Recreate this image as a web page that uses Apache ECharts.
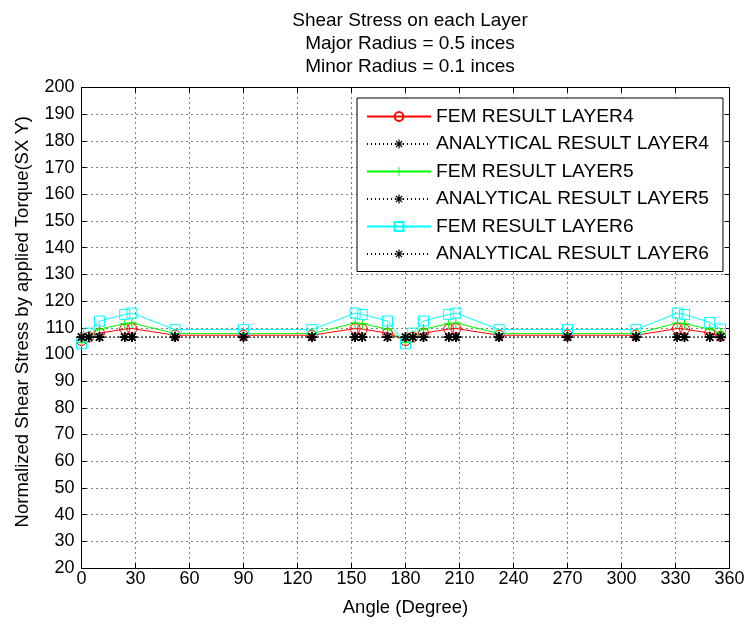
<!DOCTYPE html>
<html>
<head>
<meta charset="utf-8">
<script src="https://cdn.jsdelivr.net/npm/echarts@6/dist/echarts.min.js"></script>
<style>
  html, body { margin: 0; padding: 0; background: #fff; }
  #chart { width: 748px; height: 625px; }
</style>
</head>
<body>
<div id="chart"></div>
<script>
// Node angles around the section (degrees)
const angles = [0, 4, 10, 24, 28, 52, 90, 128, 152, 156, 170, 180, 184, 190, 204, 208, 232, 270, 308, 331, 335, 349, 355];

// FEM shear stress per layer
const fem4 = [105.2, 106.5, 108.0, 109.5, 109.7, 107.2, 107.2, 107.2, 109.7, 109.5, 108.0, 105.2, 106.5, 108.0, 109.5, 109.7, 107.2, 107.2, 107.2, 109.7, 109.5, 108.0, 106.8];
const fem5 = [104.5, 107.0, 109.5, 111.5, 111.8, 107.8, 107.8, 107.8, 111.8, 111.5, 109.5, 104.5, 107.0, 109.5, 111.5, 111.8, 107.8, 107.8, 107.8, 111.8, 111.5, 109.5, 108.0];
const fem6 = [104.0, 108.0, 112.5, 115.0, 115.5, 109.3, 109.3, 109.3, 115.5, 115.0, 112.5, 104.0, 108.0, 112.5, 115.0, 115.5, 109.3, 109.3, 109.3, 115.5, 115.0, 112.0, 109.5];

// Analytical shear stress per layer
const ana4 = [106.5, 106.5, 106.5, 106.5, 106.5, 106.5, 106.5, 106.5, 106.5, 106.5, 106.5, 106.5, 106.5, 106.5, 106.5, 106.5, 106.5, 106.5, 106.5, 106.5, 106.5, 106.5, 106.5];
const ana5 = [106.5, 106.5, 106.5, 106.5, 106.5, 106.5, 106.5, 106.5, 106.5, 106.5, 106.5, 106.5, 106.5, 106.5, 106.5, 106.5, 106.5, 106.5, 106.5, 106.5, 106.5, 106.5, 106.5];
const ana6 = [106.5, 106.5, 106.5, 106.5, 106.5, 106.5, 106.5, 106.5, 106.5, 106.5, 106.5, 106.5, 106.5, 106.5, 106.5, 106.5, 106.5, 106.5, 106.5, 106.5, 106.5, 106.5, 106.5];

const seriesNames = [
  'FEM RESULT LAYER4', 'ANALYTICAL RESULT LAYER4',
  'FEM RESULT LAYER5', 'ANALYTICAL RESULT LAYER5',
  'FEM RESULT LAYER6', 'ANALYTICAL RESULT LAYER6'
];

const xTicks = { min: 0, max: 360, interval: 30 };
const yTicks = { min: 20, max: 200, interval: 10 };

// Marker shapes: asterisk and plus
const STAR = 'path://M-5,-0.7L5,-0.7L5,0.7L-5,0.7Z' +
  'M-0.7,-5L0.7,-5L0.7,5L-0.7,5Z' +
  'M-4.035,-3.045L-3.045,-4.035L4.035,3.045L3.045,4.035Z' +
  'M4.035,-3.045L-3.045,4.035L-4.035,3.045L3.045,-4.035Z';
const PLUS = 'path://M-5,-0.55L5,-0.55L5,0.55L-5,0.55Z M-0.55,-5L0.55,-5L0.55,5L-0.55,5Z';

const pair = (ys) => angles.map((a, i) => [a, ys[i]]);

const SANS = '"Liberation Sans", Arial, Helvetica, sans-serif';

function femSeries(name, ys, color, symbol, size, hollow) {
  return {
    name: name, type: 'line', data: pair(ys),
    symbol: symbol, symbolSize: size, showAllSymbol: true,
    lineStyle: { color: color, width: 1 },
    itemStyle: hollow ? { color: 'rgba(0,0,0,0)', borderColor: color, borderWidth: 1 } : { color: color, borderWidth: 0 },
    emphasis: { disabled: true },
    animation: false, z: 3
  };
}
function anaSeries(name, ys) {
  return {
    name: name, type: 'line', data: pair(ys),
    symbol: STAR, symbolSize: 10, showAllSymbol: true,
    lineStyle: { color: '#000', width: 1, type: [1, 3] },
    itemStyle: { color: '#000', borderWidth: 0 },
    emphasis: { disabled: true },
    animation: false, z: 4
  };
}

const gridLine = { show: true, lineStyle: { color: '#000', width: 1, type: [1, 4] } };
const axisLine = { show: true, onZero: false, lineStyle: { color: '#000', width: 1 } };
const tick = { show: true, inside: true, length: 5, lineStyle: { color: '#000' } };

const chart = echarts.init(document.getElementById('chart'), null, { renderer: 'canvas' });
chart.setOption({
  backgroundColor: '#fff',
  animation: false,
  title: {
    text: 'Shear Stress on each Layer\nMajor Radius = 0.5 inces\nMinor Radius = 0.1 inces',
    left: 405, top: 4, textAlign: 'center',
    textStyle: { fontFamily: SANS, fontSize: 19, fontWeight: 'normal', color: '#000', lineHeight: 23.2 }
  },
  grid: { left: 81.5, right: 18.5, top: 87.5, bottom: 57, containLabel: false },
  legend: {
    orient: 'vertical', left: 357, top: 98,
    backgroundColor: '#fff', borderColor: '#000', borderWidth: 1,
    padding: [9, 14, 8, 9],
    itemWidth: 64, itemHeight: 11, itemGap: 8.5,
    textStyle: { fontFamily: SANS, fontSize: 19.2, color: '#000' },
    data: seriesNames,
    selectedMode: false
  },
  xAxis: [
    Object.assign({ type: 'value', position: 'bottom', name: 'Angle (Degree)', nameLocation: 'middle', nameGap: 30,
      nameTextStyle: { fontFamily: SANS, fontSize: 18.5, color: '#000' },
      axisLine: axisLine, axisTick: tick, splitLine: gridLine,
      axisLabel: { color: '#000', fontFamily: SANS, fontSize: 18, margin: 2 } }, xTicks),
    Object.assign({ type: 'value', position: 'top',
      axisLine: axisLine, axisTick: tick, splitLine: { show: false }, axisLabel: { show: false } }, xTicks)
  ],
  yAxis: [
    Object.assign({ type: 'value', position: 'left', name: 'Normalized Shear Stress by applied Torque(SX Y)',
      nameLocation: 'middle', nameGap: 49,
      nameTextStyle: { fontFamily: SANS, fontSize: 18.5, color: '#000', padding: [0, 0, 0, 12] },
      axisLine: axisLine, axisTick: tick, splitLine: gridLine,
      axisLabel: { color: '#000', fontFamily: SANS, fontSize: 18, margin: 7 } }, yTicks),
    Object.assign({ type: 'value', position: 'right',
      axisLine: axisLine, axisTick: tick, splitLine: { show: false }, axisLabel: { show: false } }, yTicks)
  ],
  series: [
    femSeries(seriesNames[0], fem4, '#ff0000', 'circle', 10, true),
    anaSeries(seriesNames[1], ana4),
    femSeries(seriesNames[2], fem5, '#00ff00', PLUS, 10, false),
    anaSeries(seriesNames[3], ana5),
    femSeries(seriesNames[4], fem6, '#00ffff', 'rect', 10, true),
    anaSeries(seriesNames[5], ana6)
  ]
});
</script>
</body>
</html>
